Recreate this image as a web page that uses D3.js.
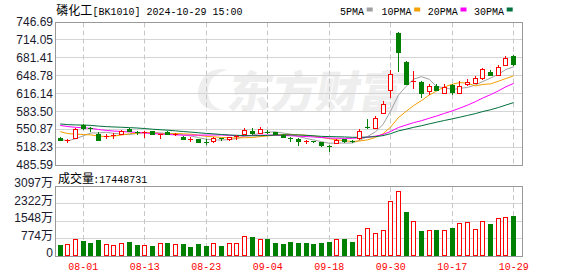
<!DOCTYPE html>
<html><head><meta charset="utf-8">
<script src="https://cdn.jsdelivr.net/npm/d3@7"></script>
<style>body{margin:0;background:#fff;}svg{display:block}</style>
</head><body>
<svg id="c" width="578" height="276"></svg>
<script>
// ---------------- data ----------------
const dates = ["07-29","07-30","07-31","08-01","08-02","08-05","08-06","08-07","08-08","08-09",
"08-12","08-13","08-14","08-15","08-16","08-19","08-20","08-21","08-22","08-23",
"08-26","08-27","08-28","08-29","08-30","09-02","09-03","09-04","09-05","09-06",
"09-09","09-10","09-11","09-12","09-13","09-18","09-19","09-20","09-23","09-24",
"09-25","09-26","09-27","09-30","10-08","10-09","10-10","10-11","10-14","10-15",
"10-16","10-17","10-18","10-21","10-22","10-23","10-24","10-25","10-28","10-29"];
const open = [535.3,530.3,535.3,557.6,553.4,541.8,536.7,538.5,541.8,551.6,
545.8,543.4,546.7,540.7,545.4,540.4,537.1,532.5,532.2,528.0,
528.5,534.0,532.2,536.7,542.5,547.3,544.3,545.8,545.4,540.7,
534.9,533.4,528.0,529.1,527.3,520.4,526.2,532.2,529.4,535.3,
554.0,553.4,580.7,621.3,726.2,673.4,637.1,637.1,620.0,629.1,
617.1,630.3,617.1,632.2,634.0,644.3,655.3,649.1,667.3,683.6];
const high = [536.7,533.4,553.1,559.4,554.0,546.2,541.3,544.3,548.5,553.4,
546.7,547.3,547.6,542.5,546.7,543.1,537.6,536.4,533.1,532.2,
535.8,534.9,536.7,539.4,552.2,552.2,554.5,549.1,546.2,541.3,
536.7,534.0,530.9,529.4,527.6,522.2,532.2,533.1,530.3,550.4,
568.5,574.0,601.8,657.6,726.7,674.0,656.3,637.6,633.4,633.4,
633.4,633.4,638.2,641.3,647.2,662.5,657.6,666.7,683.1,685.4];
const low = [530.3,528.0,534.0,551.3,547.3,531.3,535.3,535.3,541.3,546.7,
542.2,537.1,542.2,535.3,541.3,539.4,533.1,529.1,526.7,523.1,
527.6,531.3,531.3,533.4,542.2,542.5,544.0,543.1,541.3,536.7,
529.4,522.2,525.4,526.7,520.7,510.9,525.8,528.0,527.6,532.2,
552.2,552.2,579.4,609.8,656.3,632.2,626.2,609.8,615.3,621.3,
615.8,614.0,615.8,630.3,634.0,641.3,648.5,648.5,666.7,667.6];
const close = [531.6,531.6,551.6,552.2,552.2,531.6,538.5,540.3,546.7,547.3,
543.1,544.9,542.5,542.2,541.8,541.6,533.4,533.1,527.3,527.1,
534.9,532.7,536.3,538.5,548.5,543.1,551.6,544.9,541.8,537.1,
534.0,528.5,528.7,527.3,521.3,519.8,530.3,528.5,528.2,547.3,
553.4,571.6,595.8,651.6,690.9,633.4,638.2,617.1,629.1,621.8,
627.3,618.2,629.1,637.1,644.3,659.4,649.1,663.6,680.7,668.5];
// closes of the 29 sessions before the first shown day (needed for the moving averages)
const priorCloses = [570,566,562,568,572,566,560,563,566,564,
574,578,572,568,576,570,566,562,564,560,
566,562,558,560,555, 545,532,526,526.4];
// volume in 万 shares, and whether the day closed up vs previous close
const volume = [449,494,748,628,538,673,494,449,538,583,
449,449,404,538,538,494,494,359,494,404,
538,404,538,538,853,808,718,718,538,494,
583,538,538,494,538,583,748,718,583,927,
1241,1017,1152,2409,2858,1930,1556,1077,1152,1152,
1152,1241,1466,1511,1197,1556,1391,1690,1735,1745];
const volUp = [0,1,1,0,0,0,1,1,1,0, 0,1,0,1,0,1,0,0,0,0, 1,0,1,1,1,0,1,0,0,0,
0,0,0,0,0,0,1,0,0,1, 1,1,1,1,1,0,1,0,1,0, 1,0,1,1,1,1,0,1,1,0];
const priceTicks = [746.69,714.05,681.41,648.78,616.14,583.50,550.87,518.23,485.59];
const volTicks = [0,774,1548,2322,3097];
const xLabels = ["08-01","08-13","08-23","09-04","09-18","09-30","10-17","10-29"];
const maPeriods = [5,10,20,30];
const maNames = ["5PMA","10PMA","20PMA","30PMA"];
const maColors = ["#a0a0a0","#f5a000","#ff00ff","#00703c"];
const titleName = "磷化工";
const titleCode = "[BK1010] 2024-10-29 15:00";
const volTitle = "成交量";
const lastVolume = "17448731";

// ---------------- layout ----------------
const RED = "#ff0000", GREEN = "#008000";
const L = 55, R = 522;
const mainTop = 21.5, mainBot = 165;
const volTop = 186, volBot = 255.5;
const svg = d3.select("#c");
const px = v => Math.round(v) + 0.5;

const x = d3.scaleBand().domain(dates).range([56.35, 56.35 + 60 * 7.686]).padding(0);
const xc = d => x(d) + x.bandwidth() / 2;
const y = d3.scaleLinear().domain([485.59, 746.69]).range([mainBot, mainTop]);
const yv = d3.scaleLinear().domain([0, 3097]).range([volBot, volTop]);

// watermark
const wm = svg.append("g").attr("fill", "#eeeeee");
wm.append("path").attr("d", "M198,92 C200,74 214,66 228,70 C216,72 208,80 208,92 C208,102 214,108 222,110 C208,112 197,104 198,92 Z");
wm.append("text").attr("x", 226).attr("y", 108).attr("font-family", "Noto Sans CJK SC")
  .attr("font-weight", 900).attr("font-size", 44).attr("transform", "skewX(-10) translate(19,0)")
  .text("东方财富");

// gridlines
const grid = svg.append("g").attr("stroke", "#d4d4d4").attr("stroke-width", 1);
priceTicks.slice(1, -1).forEach(t => grid.append("line").attr("x1", L).attr("x2", R).attr("y1", px(y(t))).attr("y2", px(y(t))));
volTicks.slice(1, -1).forEach(t => grid.append("line").attr("x1", L).attr("x2", R).attr("y1", px(yv(t))).attr("y2", px(yv(t))));
const vg = svg.append("g").attr("stroke", "#c8c8c8").attr("stroke-dasharray", "5,3");
xLabels.forEach(d => {
  const xx = px(xc(d) - 0.5);
  vg.append("line").attr("x1", xx).attr("x2", xx).attr("y1", mainTop + 1).attr("y2", mainBot);
  vg.append("line").attr("x1", xx).attr("x2", xx).attr("y1", volTop + 1).attr("y2", volBot);
});

// borders
const bd = svg.append("g").attr("fill", "none").attr("stroke", "#999");
bd.append("rect").attr("x", L + 0.5).attr("y", px(mainTop)).attr("width", R - L).attr("height", Math.round(mainBot) - Math.round(mainTop));
bd.append("rect").attr("x", L + 0.5).attr("y", px(volTop)).attr("width", R - L).attr("height", Math.round(volBot) - Math.round(volTop));

// moving averages
const allCloses = priorCloses.concat(close);
const maSeries = maPeriods.map(n => close.map((_, i) => {
  const j = i + priorCloses.length;
  return d3.mean(allCloses.slice(j - n + 1, j + 1));
}));
const line = d3.line().x((d, i) => xc(dates[i])).y(d => y(d));
maSeries.forEach((s, k) => {
  svg.append("path").attr("d", line(s)).attr("fill", "none").attr("stroke", maColors[k]).attr("stroke-width", 1);
});

// candles
const cg = svg.append("g");
dates.forEach((d, i) => {
  const cx = px(xc(d) - 0.5);
  const up = close[i] >= open[i];
  const col = up ? RED : GREEN;
  cg.append("line").attr("x1", cx).attr("x2", cx)
    .attr("y1", Math.round(y(high[i]))).attr("y2", Math.round(y(low[i])) + 1).attr("stroke", col);
  const top = Math.round(Math.min(y(open[i]), y(close[i])));
  const bot = Math.round(Math.max(y(open[i]), y(close[i])));
  if (bot - top < 2) {
    cg.append("line").attr("x1", cx - 2.5).attr("x2", cx + 2.5).attr("y1", top + 0.5).attr("y2", top + 0.5).attr("stroke", col);
  } else if (up) {
    cg.append("rect").attr("x", cx - 2).attr("y", top + 0.5).attr("width", 4).attr("height", bot - top)
      .attr("fill", "#fff").attr("stroke", col);
  } else {
    cg.append("rect").attr("x", cx - 2.5).attr("y", top).attr("width", 5).attr("height", bot - top + 1).attr("fill", col);
  }
});

// volume bars
const bg = svg.append("g");
dates.forEach((d, i) => {
  const cx = px(xc(d) - 0.5);
  const top = Math.round(yv(volume[i]));
  const bot = Math.round(volBot);
  if (volUp[i]) {
    bg.append("rect").attr("x", cx - 2).attr("y", top + 0.5).attr("width", 4).attr("height", bot - top - 1)
      .attr("fill", "#fff").attr("stroke", RED);
  } else {
    bg.append("rect").attr("x", cx - 2.5).attr("y", top).attr("width", 5).attr("height", bot - top).attr("fill", GREEN);
  }
});

// axes
const fontNum = "'Liberation Sans', Arial, 'Noto Sans CJK SC', sans-serif";
const ya = svg.append("g").attr("transform", `translate(${L},0)`)
  .call(d3.axisLeft(y).tickValues(priceTicks).tickFormat(d3.format(".2f")).tickSize(0).tickPadding(2));
ya.select(".domain").remove();
ya.selectAll("text").attr("font-family", fontNum).attr("font-size", 12).attr("fill", "#1a1a2e");
const va = svg.append("g").attr("transform", `translate(${L},0)`)
  .call(d3.axisLeft(yv).tickValues(volTicks).tickFormat(d => d ? d + "万" : "0").tickSize(0).tickPadding(2));
va.select(".domain").remove();
va.selectAll("text").attr("font-family", fontNum).attr("font-size", 12).attr("fill", "#1a1a2e").attr("dy", "0.08em");

const mono = "'Liberation Mono', 'DejaVu Sans Mono', monospace";
const cjk = "'Noto Sans CJK SC', sans-serif";
// x labels
const xa = svg.append("g");
xLabels.forEach(d => {
  xa.append("text").attr("x", xc(d)).attr("y", 270).attr("text-anchor", "middle")
    .attr("font-family", mono).attr("font-size", 11).attr("textLength", 30).attr("lengthAdjust", "spacingAndGlyphs")
    .attr("fill", RED).text(d);
});

// title
svg.append("text").attr("x", 56.3).attr("y", 14.5).attr("font-family", cjk).attr("font-size", 12).attr("fill", "#000").text(titleName);
svg.append("text").attr("x", 92.6).attr("y", 14.5).attr("font-family", mono).attr("font-size", 11)
  .attr("textLength", titleCode.length * 6).attr("lengthAdjust", "spacingAndGlyphs").attr("fill", "#000").text(titleCode);

// legend
const legendX = [340, 381.5, 427.8, 474];
maNames.forEach((n, k) => {
  svg.append("text").attr("x", legendX[k]).attr("y", 14.5).attr("font-family", mono).attr("font-size", 11)
    .attr("textLength", n.length * 6).attr("lengthAdjust", "spacingAndGlyphs").attr("fill", "#000").text(n);
  svg.append("rect").attr("x", legendX[k] + n.length * 6 + 2.7).attr("y", 7.5).attr("width", 6).attr("height", 4).attr("fill", maColors[k]);
});

// volume title
svg.append("text").attr("x", 58).attr("y", 182.5).attr("font-family", cjk).attr("font-size", 12).attr("fill", "#000").text(volTitle);
svg.append("text").attr("x", 93.3).attr("y", 182.5).attr("font-family", mono).attr("font-size", 11)
  .attr("textLength", (lastVolume.length + 1) * 6).attr("lengthAdjust", "spacingAndGlyphs").attr("fill", "#000").text(":" + lastVolume);
</script>
</body></html>
